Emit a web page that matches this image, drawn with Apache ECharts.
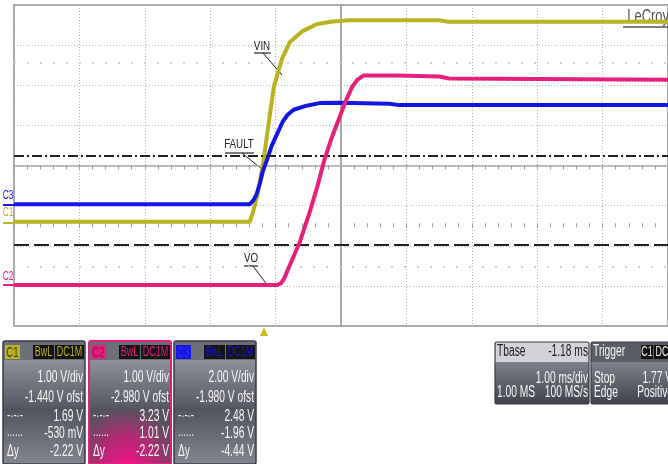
<!DOCTYPE html>
<html lang="en">
<head>
<meta charset="utf-8"/>
<title>Scope capture</title>
<script src="https://cdn.jsdelivr.net/npm/echarts@6/dist/echarts.min.js"></script>
<style>
    html, body { margin: 0; padding: 0; background: #fff; }
    #scope { width: 668px; height: 464px; }
</style>
</head>
<body>
<div id="scope"></div>
<script>
// time axis: divisions from screen centre (1.00 ms/div)
// C1 = VIN (1 V/div, -1.44 V ofst), C2 = VO (1 V/div, -2.98 V ofst), C3 = FAULT (2 V/div, -1.98 V ofst)
const vinTime  = [-5, -1.395, -1.349, -1.288, -1.242, -1.197, -1.12, -1.029, -0.907, -0.785, -0.587, -0.373, -0.13, 0.13, 1.5, 1.65, 5];
const vinVolts = [0.04, 0.04, 0.26, 0.64, 1.03, 1.43, 2.33, 3.38, 4.08, 4.51, 4.79, 4.96, 5.03, 5.06, 5.06, 5.02, 5.02];

const voTime  = [-5, -0.983, -0.922, -0.877, -0.831, -0.785, -0.633, -0.48, -0.358, -0.252, -0.13, -0.023, 0.084, 0.175, 0.252, 0.343, 0.846, 1.502, 1.654, 5];
const voVolts = [0, 0, 0.04, 0.14, 0.31, 0.49, 1.06, 1.81, 2.48, 3.13, 3.73, 4.18, 4.63, 4.95, 5.12, 5.22, 5.22, 5.2, 5.15, 5.12];

const faultTime  = [-5, -1.395, -1.334, -1.288, -1.242, -1.197, -1.136, -1.059, -0.968, -0.892, -0.816, -0.724, -0.526, -0.328, -0.023, 0.739, 0.892, 5];
const faultVolts = [0.05, 0.05, 0.27, 0.57, 1.07, 1.67, 2.22, 2.97, 3.62, 4.16, 4.51, 4.76, 4.96, 5.09, 5.11, 5.06, 4.99, 4.99];

// horizontal cursors on C1 (volts)
const cursorDashDot = 1.69;
const cursorDashed = -0.53;

// readout panels
const c1Info = ['1.00 V/div', '-1.440 V ofst', '1.69 V', '-530 mV', '-2.22 V'];
const c2Info = ['1.00 V/div', '-2.980 V ofst', '3.23 V', '1.01 V', '-2.22 V'];
const c3Info = ['2.00 V/div', '-1.980 V ofst', '2.48 V', '-1.96 V', '-4.44 V'];
const tbaseInfo = ['Tbase', '-1.18 ms', '1.00 ms/div', '1.00 MS', '100 MS/s'];
const trigInfo = ['Trigger', 'Stop', '1.77 V', 'Edge', 'Positive'];

const YEL = '#b8b320', MAG = '#e61e7c', BLU = '#1616e4';
const FONT = '"Liberation Sans", Arial, sans-serif';
const WHITE = '#f6f6f6';

function zip(t, v) {
    return t.map(function (x, i) { return [x, v[i]]; });
}

function txt(x, y, s, size, color, align, sx) {
    return {
        type: 'text', x: x, y: y, scaleX: sx || 0.64, silent: true,
        style: { text: s, font: size + 'px ' + FONT, fill: color, align: align || 'left', verticalAlign: 'middle' }
    };
}

function rect(x, y, w, h, fill) {
    return { type: 'rect', silent: true, shape: { x: x, y: y, width: w, height: h }, style: { fill: fill } };
}

function seg(x1, y1, x2, y2, color, w) {
    return { type: 'line', silent: true, shape: { x1: x1, y1: y1, x2: x2, y2: y2 }, style: { stroke: color, lineWidth: w || 1 } };
}

function vgrad(a, b) {
    return { type: 'linear', x: 0, y: 0, x2: 0, y2: 1, colorStops: [{ offset: 0, color: a }, { offset: 1, color: b }] };
}

function chanPanel(x0, tag, col, tagCol, info, glow) {
    const y0 = 341, w = 82, h = 123;
    const els = [];
    els.push(rect(x0, y0, w, 19, '#6c6f77'));
    els.push(rect(x0, y0 + 19, w, 48, vgrad('#8e9199', '#565963')));
    if (glow) {
        els.push(rect(x0, y0 + 67, w, h - 67, {
            type: 'radial', x: 0.45, y: 1, r: 1.0,
            colorStops: [{ offset: 0, color: '#f0148a' }, { offset: 0.5, color: '#b22a74' }, { offset: 1, color: '#56525e' }]
        }));
    } else {
        els.push(rect(x0, y0 + 67, w, h - 67, vgrad('#50535c', '#83868e')));
    }
    els.push({
        type: 'rect', silent: true, shape: { x: x0, y: y0, width: w, height: h, r: 2 },
        style: { fill: null, stroke: glow ? MAG : '#3a3d43', lineWidth: glow ? 2 : 1.5 }
    });
    els.push(rect(x0 + 2, y0 + 4, 15, 14, col));
    els.push(txt(x0 + 9.5, y0 + 11.5, tag, 15, tagCol, 'center'));
    els.push(rect(x0 + 30, y0 + 4, 21, 14, '#141414'));
    els.push(txt(x0 + 40.5, y0 + 11.5, 'BwL', 14, col, 'center'));
    els.push(rect(x0 + 52, y0 + 4, 29, 14, '#141414'));
    els.push(txt(x0 + 66.5, y0 + 11.5, 'DC1M', 14, col, 'center'));
    const rx = x0 + w - 2;
    els.push(txt(rx, 378, info[0], 16, WHITE, 'right'));
    els.push(txt(rx, 398, info[1], 16, WHITE, 'right'));
    els.push(txt(rx, 417, info[2], 16, WHITE, 'right'));
    els.push(txt(rx, 434, info[3], 16, WHITE, 'right'));
    els.push(txt(rx, 452, info[4], 16, WHITE, 'right'));
    els.push(txt(x0 + 4, 416, '-·-·-', 15, WHITE, 'left'));
    els.push(txt(x0 + 4, 432, '......', 15, WHITE, 'left'));
    els.push(txt(x0 + 4, 452, 'Δy', 16, WHITE, 'left'));
    return els;
}

function timePanels() {
    const els = [];
    // Tbase
    els.push(rect(495, 342, 94, 20, '#d2d3d6'));
    els.push(rect(495, 362, 94, 42, vgrad('#7f828a', '#3f424a')));
    els.push({ type: 'rect', silent: true, shape: { x: 495, y: 342, width: 94, height: 62, r: 2 }, style: { fill: null, stroke: '#3a3d43', lineWidth: 1.2 } });
    els.push(txt(497, 352, tbaseInfo[0], 16, '#222', 'left'));
    els.push(txt(588, 352, tbaseInfo[1], 16, '#222', 'right'));
    els.push(txt(588, 379, tbaseInfo[2], 16, WHITE, 'right'));
    els.push(txt(497, 393, tbaseInfo[3], 16, WHITE, 'left'));
    els.push(txt(588, 393, tbaseInfo[4], 16, WHITE, 'right'));
    // Trigger
    els.push(rect(591, 342, 80, 20, '#5a5d64'));
    els.push(rect(591, 362, 80, 42, vgrad('#7f828a', '#3f424a')));
    els.push({ type: 'rect', silent: true, shape: { x: 591, y: 342, width: 80, height: 62, r: 2 }, style: { fill: null, stroke: '#3a3d43', lineWidth: 1.2 } });
    els.push(txt(593, 352, trigInfo[0], 16, WHITE, 'left'));
    els.push(rect(641, 345, 12, 14, '#111'));
    els.push(txt(647, 352, 'C1', 14, '#eee', 'center'));
    els.push(rect(654, 345, 16, 14, '#111'));
    els.push(txt(662, 352, 'DC', 14, '#eee', 'center'));
    els.push(txt(594, 379, trigInfo[1], 16, WHITE, 'left'));
    els.push(txt(672, 379, trigInfo[2], 16, WHITE, 'right'));
    els.push(txt(594, 393, trigInfo[3], 16, WHITE, 'left'));
    els.push(txt(673, 393, trigInfo[4], 16, WHITE, 'right'));
    return els;
}

function annotations() {
    const els = [];
    // trace names with leader lines
    els.push(txt(262, 46, 'VIN', 13, '#222', 'center', 0.75));
    els.push(seg(254, 53, 271, 53, '#222', 1.2));
    els.push(seg(263, 53, 282, 75, '#222', 1));
    els.push(txt(239, 144, 'FAULT', 13, '#222', 'center', 0.75));
    els.push(seg(225, 153, 254, 153, '#222', 1.2));
    els.push(seg(242, 153, 263, 170, '#222', 1));
    els.push(txt(251, 258, 'VO', 13, '#222', 'center', 0.75));
    els.push(seg(244, 266, 258, 266, '#222', 1.2));
    els.push(seg(253, 266, 268, 286, '#222', 1));
    // channel ground markers
    els.push(txt(8, 196, 'C3', 12, BLU, 'center', 0.7));
    els.push(seg(3, 205, 14, 205, BLU, 2));
    els.push(txt(8, 213, 'C1', 12, YEL, 'center', 0.7));
    els.push(seg(3, 223, 14, 223, YEL, 2));
    els.push(txt(8, 277, 'C2', 12, MAG, 'center', 0.7));
    els.push(seg(3, 285, 14, 285, MAG, 2));
    // trigger position marker
    els.push({ type: 'polygon', silent: true, shape: { points: [[264, 327], [260, 336], [268, 336]] }, style: { fill: '#c9b620' } });
    // logo
    els.push(txt(669, 17, 'LeCroy', 19, '#555', 'right', 0.68));
    els.push(seg(623, 27, 668, 27, '#555', 1.5));
    return els;
}

const chart = echarts.init(document.getElementById('scope'));

const gridDot = { color: '#b2b2b2', type: [1, 2], width: 1 };

const option = {
    animation: false,
    backgroundColor: '#fff',
    grid: { left: 14, top: 5, width: 656, height: 321, show: true, borderColor: '#a9a9a9', borderWidth: 2 },
    xAxis: [
        {
            type: 'value', min: -5, max: 5, interval: 1,
            axisLine: { onZero: true, lineStyle: { color: '#a9a9a9', width: 1.5 } },
            axisTick: { show: true, length: 4, lineStyle: { color: '#9a9a9a' } },
            minorTick: { show: true, splitNumber: 5, length: 4, lineStyle: { color: '#9a9a9a' } },
            axisLabel: { show: false },
            splitLine: { show: true, lineStyle: gridDot }
        },
        {
            type: 'value', min: -5, max: 5, interval: 1,
            axisLine: { onZero: true, show: false },
            axisTick: { show: true, inside: true, length: 4, lineStyle: { color: '#9a9a9a' } },
            minorTick: { show: true, splitNumber: 5, length: 4, lineStyle: { color: '#9a9a9a' } },
            axisLabel: { show: false },
            splitLine: { show: false }
        }
    ],
    yAxis: [
        {
            type: 'value', min: -4, max: 4, interval: 1,
            axisLine: { onZero: true, lineStyle: { color: '#a9a9a9', width: 2 } },
            axisTick: { show: false },
            axisLabel: { show: false },
            splitLine: { show: true, lineStyle: gridDot }
        },
        { type: 'value', show: false, min: -2.56, max: 5.44 },
        { type: 'value', show: false, min: -1.02, max: 6.98 },
        { type: 'value', show: false, min: -6.02, max: 9.98 }
    ],
    series: [
        {
            name: 'faint', type: 'line', yAxisIndex: 0, data: [],
            markLine: {
                silent: true, symbol: 'none', label: { show: false },
                lineStyle: { color: '#d4d4d4', type: [2, 11], width: 2 },
                data: [{ yAxis: 2.55 }, { yAxis: -2.52 }]
            }
        },
        {
            name: 'C1', type: 'line', yAxisIndex: 1, data: zip(vinTime, vinVolts),
            showSymbol: false, z: 3,
            lineStyle: { color: YEL, width: 4, join: 'round' },
            itemStyle: { color: YEL },
            markLine: {
                silent: true, symbol: 'none', label: { show: false },
                data: [
                    { yAxis: cursorDashDot, lineStyle: { color: '#222', type: [10, 3, 2, 3], width: 2 } },
                    { yAxis: cursorDashed, lineStyle: { color: '#222', type: [15, 5], width: 2 } }
                ]
            }
        },
        {
            name: 'C3', type: 'line', yAxisIndex: 3, data: zip(faultTime, faultVolts),
            showSymbol: false, z: 4,
            lineStyle: { color: BLU, width: 4, join: 'round' },
            itemStyle: { color: BLU }
        },
        {
            name: 'C2', type: 'line', yAxisIndex: 2, data: zip(voTime, voVolts),
            showSymbol: false, z: 5,
            lineStyle: { color: MAG, width: 4, join: 'round' },
            itemStyle: { color: MAG }
        }
    ],
    graphic: [].concat(
        annotations(),
        chanPanel(3, 'C1', YEL, '#3a3a10', c1Info, false),
        chanPanel(89, 'C2', MAG, '#9a1050', c2Info, true),
        chanPanel(174, 'C3', BLU, '#2a2af0', c3Info, false),
        timePanels()
    )
};

chart.setOption(option);
</script>
</body>
</html>
